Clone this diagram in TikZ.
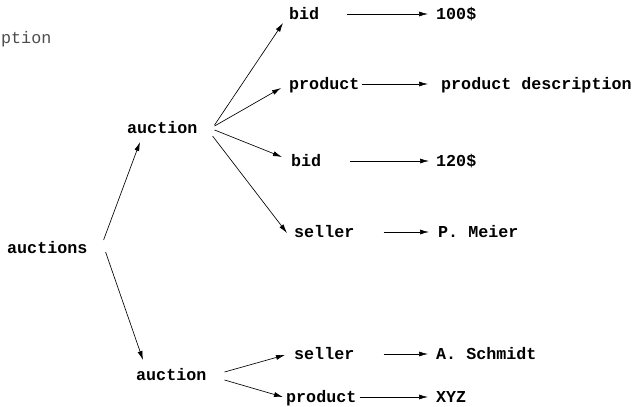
\documentclass[tikz,border=0pt]{standalone}
\usepackage{fontspec}
\newfontfamily\cour{Liberation Mono}
\usetikzlibrary{arrows.meta}
\tikzset{
  txtdrop/.style={execute at begin node={\lower3pt\hbox\bgroup}, execute at end node={\egroup}},
  lbl/.style={font=\cour\bfseries\fontsize{16.7}{20}\selectfont, inner sep=0pt, anchor=mid west, txtdrop},
  faint/.style={font=\cour\fontsize{16.7}{20}\selectfont, inner sep=0pt, anchor=mid west, text=black!70, txtdrop},
  arr/.style={-{Latex[length=9pt,width=5pt]}, line width=0.65pt}
}
\begin{document}
\begin{tikzpicture}[x=1pt,y=-1pt]
\useasboundingbox (0,0) rectangle (635,407);

% fragment of a wider label at the left edge
\node[faint] (frag) at (1,38) {ption};

% tree nodes
\node[lbl] (root) at (7,248) {auctions};
\node[lbl] (au1)  at (127,128) {auction};
\node[lbl] (au2)  at (136,375) {auction};

\node[lbl] (bid1)  at (289,14)  {bid};
\node[lbl] (prod1) at (289,84)  {product};
\node[lbl] (bid2)  at (291,161) {bid};
\node[lbl] (sel1)  at (294,232) {seller};
\node[lbl] (sel2)  at (294,354) {seller};
\node[lbl] (prod2) at (286,397) {product};

% values
\node[lbl] (v100)    at (436,14)  {100\$};
\node[lbl] (desc)    at (441,84)  {product description};
\node[lbl] (v120)    at (436,161) {120\$};
\node[lbl] (meier)   at (438,232) {P. Meier};
\node[lbl] (schmidt) at (436,354) {A. Schmidt};
\node[lbl] (xyz)     at (436,397) {XYZ};

% root to auctions
\draw[arr] ([shift={(16,-8)}]root.mid east) -- ([shift={(13,14)}]au1.mid west);
\draw[arr] ([shift={(18,4)}]root.mid east) -- ([shift={(7,-15)}]au2.mid west);

% first auction
\draw[arr] ([shift={(17,-3)}]au1.mid east) -- ([shift={(-6,9)}]bid1.mid west);
\draw[arr] ([shift={(17,-2)}]au1.mid east) -- ([shift={(-8,4)}]prod1.mid west);
\draw[arr] ([shift={(17,2)}]au1.mid east) -- ([shift={(-9,-4)}]bid2.mid west);
\draw[arr] ([shift={(15,8)}]au1.mid east) -- ([shift={(-7,1)}]sel1.mid west);

% second auction
\draw[arr] ([shift={(18,-3)}]au2.mid east) -- ([shift={(-9,1)}]sel2.mid west);
\draw[arr] ([shift={(18,5)}]au2.mid east) -- ([shift={(-3,0)}]prod2.mid west);

% attribute values
\draw[arr] ([shift={(28,0)}]bid1.mid east) -- ([shift={(-8,0)}]v100.mid west);
\draw[arr] ([shift={(2,0)}]prod1.mid east) -- ([shift={(-13,0)}]desc.mid west);
\draw[arr] ([shift={(29,0)}]bid2.mid east) -- ([shift={(-7,0)}]v120.mid west);
\draw[arr] ([shift={(29,0)}]sel1.mid east) -- ([shift={(-9,0)}]meier.mid west);
\draw[arr] ([shift={(29,0)}]sel2.mid east) -- ([shift={(-8,0)}]schmidt.mid west);
\draw[arr] ([shift={(3,0)}]prod2.mid east) -- ([shift={(-8,0)}]xyz.mid west);
\end{tikzpicture}
\end{document}
